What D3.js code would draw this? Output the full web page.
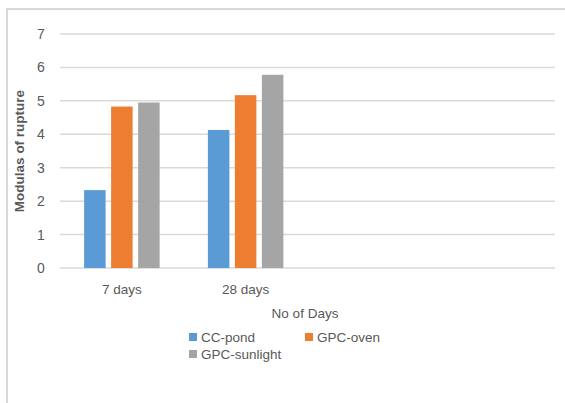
<!DOCTYPE html>
<html>
<head>
<meta charset="utf-8">
<script src="https://cdn.jsdelivr.net/npm/d3@7/dist/d3.min.js"></script>
<style>
  html, body { margin: 0; padding: 0; background: #fff; }
  svg { display: block; }
  text { font-family: "Liberation Sans", Arial, sans-serif; fill: #595959; }
</style>
</head>
<body>
<svg id="chart" width="565" height="403"></svg>
<script>
const categories = ["7 days", "28 days", "", ""];
const seriesNames = ["CC-pond", "GPC-oven", "GPC-sunlight"];
const ccPond = [2.33, 4.13, null, null];
const gpcOven = [4.83, 5.17, null, null];
const gpcSunlight = [4.95, 5.78, null, null];
const yTicks = [0, 1, 2, 3, 4, 5, 6, 7];
const colors = ["#5B9BD5", "#ED7D31", "#A5A5A5"];

const allSeries = [ccPond, gpcOven, gpcSunlight];
const svg = d3.select("#chart");

// chart frame
svg.append("path")
  .attr("d", "M7,403 L7,9 L565,9")
  .attr("fill", "none").attr("stroke", "#D9D9D9").attr("stroke-width", 2);

const plot = { left: 60, right: 555, top: 34, bottom: 268 };

const x = d3.scaleBand().domain(d3.range(categories.length))
  .range([plot.left, plot.right]).paddingInner(0).paddingOuter(0);
const y = d3.scaleLinear().domain([0, 7]).range([plot.bottom, plot.top]);

// gridlines
svg.append("g").selectAll("line").data(yTicks).join("line")
  .attr("x1", plot.left).attr("x2", plot.right)
  .attr("y1", d => y(d)).attr("y2", d => y(d))
  .attr("stroke", "#D9D9D9").attr("stroke-width", 1.5);

// y tick labels
svg.append("g").selectAll("text").data(yTicks).join("text")
  .attr("x", 41).attr("y", d => y(d))
  .attr("text-anchor", "middle").attr("dy", "0.36em")
  .attr("font-size", 14).text(d => d);

// bars
const barW = 21.5, gap = 5.5;
const groupW = 3 * barW + 2 * gap;
const rows = [];
categories.forEach((c, i) => {
  allSeries.forEach((s, j) => {
    if (s[i] != null) rows.push({ i, j, v: s[i] });
  });
});
svg.append("g").selectAll("rect").data(rows).join("rect")
  .attr("x", d => x(d.i) + x.bandwidth() / 2 - groupW / 2 + d.j * (barW + gap))
  .attr("width", barW)
  .attr("y", d => y(d.v))
  .attr("height", d => y(0) - y(d.v))
  .attr("fill", d => colors[d.j]);

// x tick labels
svg.append("g").selectAll("text").data(categories).join("text")
  .attr("x", (d, i) => x(i) + x.bandwidth() / 2)
  .attr("y", 294)
  .attr("text-anchor", "middle")
  .attr("font-size", 13.5).text(d => d);

// axis titles
svg.append("text")
  .attr("x", 305).attr("y", 318)
  .attr("text-anchor", "middle").attr("font-size", 13.5)
  .text("No of Days");

svg.append("text")
  .attr("transform", "translate(24,151) rotate(-90)")
  .attr("text-anchor", "middle").attr("font-size", 13.5)
  .attr("font-weight", "bold")
  .text("Modulas of rupture");

// legend
const legendPos = [[189, 337], [305, 337], [189, 354]];
const lg = svg.append("g").selectAll("g").data(seriesNames).join("g")
  .attr("transform", (d, i) => `translate(${legendPos[i][0]},${legendPos[i][1]})`);
lg.append("rect").attr("x", 0).attr("y", -4).attr("width", 8).attr("height", 8)
  .attr("fill", (d, i) => colors[i]);
lg.append("text").attr("x", 12).attr("y", 0).attr("dy", "0.36em")
  .attr("font-size", 13.5).text(d => d);
</script>
</body>
</html>
